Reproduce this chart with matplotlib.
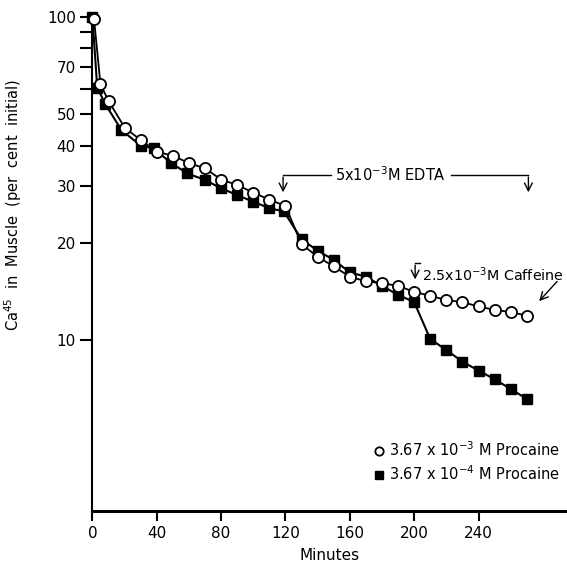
import matplotlib
matplotlib.use("Agg")
import matplotlib.pyplot as plt
from matplotlib.lines import Line2D
from matplotlib.ticker import FixedLocator, FixedFormatter, NullLocator

# Data (minutes, per cent of initial Ca45 in muscle)
t_high = [1, 5, 10, 20, 30, 40, 50, 60, 70, 80, 90, 100, 110, 120, 130, 140,
          150, 160, 170, 180, 190, 200, 210, 220, 230, 240, 250, 260, 270]
ca_high = [98.5, 62, 55, 45.5, 41.6, 38.3, 37.2, 35.3, 34, 31.4, 30.2, 28.6,
           27.2, 26, 19.8, 18.1, 16.9, 15.7, 15.2, 15.0, 14.7, 14.1, 13.7,
           13.3, 13.1, 12.7, 12.4, 12.2, 11.9]

t_low = [0, 3, 8, 18, 30, 38, 49, 59, 70, 80, 90, 100, 110, 119, 130, 140,
         150, 160, 170, 180, 190, 200, 210, 220, 230, 240, 250, 260, 270]
ca_low = [100, 60.4, 53.8, 44.7, 40, 39.2, 35.3, 32.8, 31.3, 29.5, 28.1, 26.8,
          25.6, 25.0, 20.5, 18.9, 17.7, 16.2, 15.7, 14.7, 13.8, 13.1, 10.07,
          9.31, 8.57, 8.04, 7.56, 7.05, 6.57]

x_ticks = [0, 40, 80, 120, 160, 200, 240]
y_ticks = [10, 20, 30, 40, 50, 60, 70, 80, 90, 100]
y_labels = ["10", "20", "30", "40", "50", "", "70", "", "", "100"]

label_high = r"3.67 x 10$^{-3}$ M Procaine"
label_low = r"3.67 x 10$^{-4}$ M Procaine"

# Figure setup
fig = plt.figure(figsize=(5.67, 5.69), dpi=100)
ax = fig.add_axes([0.163, 0.102, 0.837, 0.868])

ax.plot(t_low, ca_low, color="black", lw=1.5, marker="s", ms=7,
        mfc="black", mec="black", zorder=3, clip_on=False)
ax.plot(t_high, ca_high, color="black", lw=1.3, marker="o", ms=8,
        mfc="white", mec="black", mew=1.3, zorder=4, clip_on=False)

ax.set_yscale("log")
ax.set_xlim(0, 295)
ax.set_ylim(2.955, 100)

ax.yaxis.set_major_locator(FixedLocator(y_ticks))
ax.yaxis.set_major_formatter(FixedFormatter(y_labels))
ax.yaxis.set_minor_locator(NullLocator())
ax.set_xticks(x_ticks)
ax.tick_params(axis="x", direction="out", length=7, width=1.5,
               labelsize=11, pad=4)
ax.tick_params(axis="y", direction="out", length=9, width=1.5,
               labelsize=11, pad=3)

for s in ["top", "right"]:
    ax.spines[s].set_visible(False)
ax.spines["left"].set_linewidth(1.5)
ax.spines["bottom"].set_linewidth(2.2)

ax.set_xlabel("Minutes", fontsize=11, labelpad=5)
ax.set_ylabel(r"Ca$^{45}$  in  Muscle  (per  cent  initial)", fontsize=10.5)
ax.yaxis.set_label_coords(-0.145, 0.62)

# EDTA bracket
arrow = dict(arrowstyle="->", color="black", lw=1.0, mutation_scale=14)
ax.plot([118.5, 148], [32.4, 32.4], color="black", lw=1.0)
ax.plot([223, 271], [32.4, 32.4], color="black", lw=1.0)
ax.annotate("", xy=(118.5, 28.1), xytext=(118.5, 32.6), arrowprops=arrow)
ax.annotate("", xy=(271, 28.1), xytext=(271, 32.6), arrowprops=arrow)
ax.text(185, 32.4, r"5x10$^{-3}$M EDTA", fontsize=10.5, ha="center", va="center")

# Caffeine arrows
ax.plot([200.6, 203.5], [17.3, 17.3], color="black", lw=1.0)
ax.annotate("", xy=(200.6, 15.1), xytext=(200.6, 17.4), arrowprops=arrow)
ax.text(205, 15.9, r"2.5x10$^{-3}$M Caffeine", fontsize=10.3, ha="left", va="center")
ax.annotate("", xy=(276.5, 13.0), xytext=(290, 15.4), arrowprops=arrow,
            annotation_clip=False)

handles = [
    Line2D([], [], ls="None", marker="o", ms=6, mfc="white", mec="black", mew=1.3),
    Line2D([], [], ls="None", marker="s", ms=6, mfc="black", mec="black"),
]
ax.legend(handles, [label_high, label_low], loc="lower left",
          bbox_to_anchor=(0.647, 0.138), bbox_transform=fig.transFigure,
          frameon=False, fontsize=10.5, handlelength=0.6, handletextpad=0.4,
          borderpad=0, labelspacing=0.35)

fig.savefig("out.png", dpi=100)
